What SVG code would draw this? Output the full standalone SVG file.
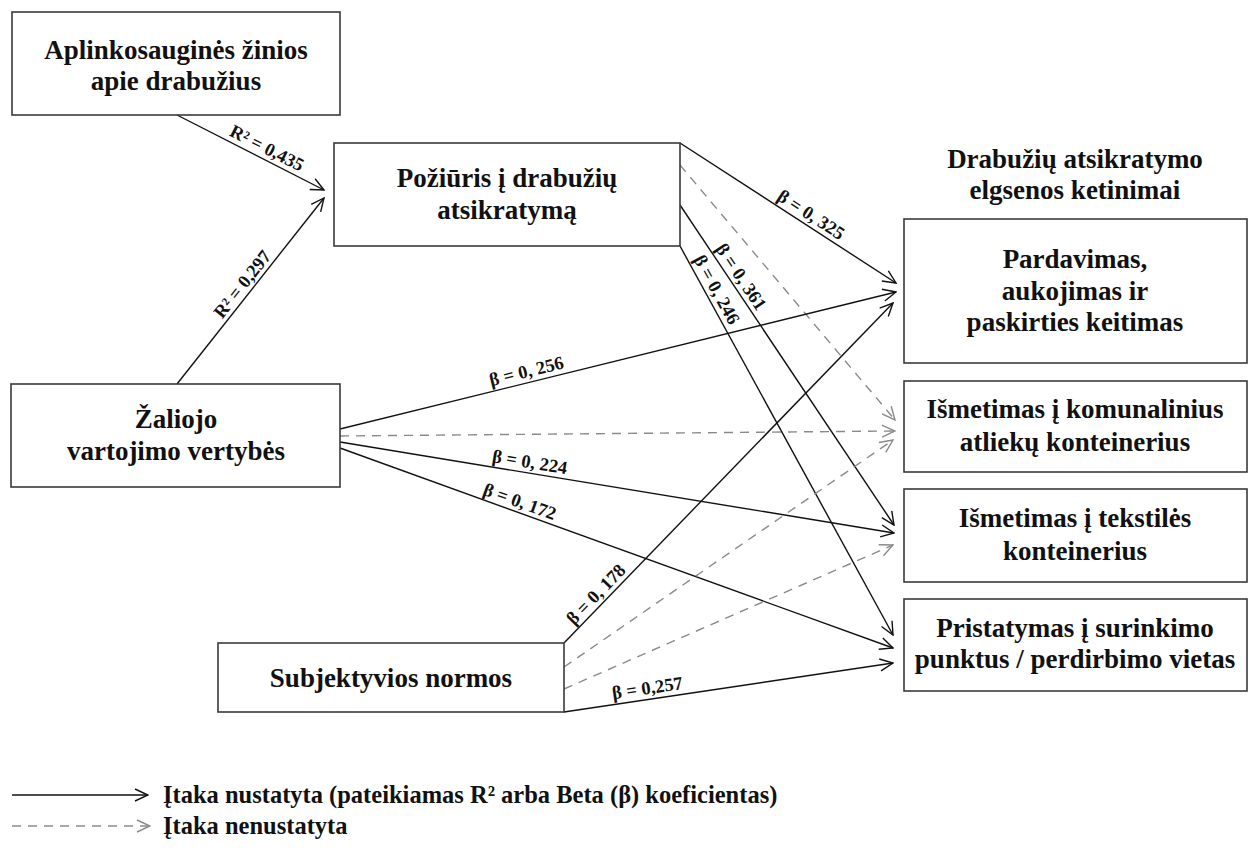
<svg xmlns="http://www.w3.org/2000/svg" width="1252" height="854" viewBox="0 0 1252 854">
  <style>
    .box { fill: #ffffff; stroke: #3a3a3a; stroke-width: 1.6; }
    .node { font-family: "Liberation Serif", "Times New Roman", serif; font-weight: bold; font-size: 27px; fill: #111; text-anchor: middle; }
    .lab { font-family: "Liberation Serif", "Times New Roman", serif; font-weight: bold; font-size: 18.5px; fill: #111; text-anchor: middle; }
    .leg { font-family: "Liberation Serif", "Times New Roman", serif; font-weight: bold; font-size: 24.5px; fill: #111; }
    .sig { fill: none; stroke: #111; stroke-width: 1.4; marker-end: url(#arr); }
    .ns { fill: none; stroke: #8a8a8a; stroke-width: 1.4; stroke-dasharray: 9 7; marker-end: url(#arrg); }
  </style>
  <defs>
    <marker id="arr" viewBox="-15 -8 16 16" refX="0" refY="0" markerWidth="16" markerHeight="16" markerUnits="userSpaceOnUse" orient="auto">
      <path d="M-13,-6 L0,0 L-13,6" fill="none" stroke="#111" stroke-width="1.4"/>
    </marker>
    <marker id="arrg" viewBox="-15 -8 16 16" refX="0" refY="0" markerWidth="16" markerHeight="16" markerUnits="userSpaceOnUse" orient="auto">
      <path d="M-13,-6 L0,0 L-13,6" fill="none" stroke="#8a8a8a" stroke-width="1.4"/>
    </marker>
  </defs>

  <rect width="1252" height="854" fill="#ffffff"/>

  <!-- connectors -->
  <g id="connectors">
    <line class="sig" x1="177" y1="115" x2="324" y2="190"/>
    <line class="sig" x1="177" y1="384" x2="324" y2="198"/>

    <line class="sig" x1="680" y1="143" x2="896" y2="283"/>
    <line class="ns" x1="680" y1="165" x2="895" y2="420"/>
    <line class="sig" x1="680" y1="205" x2="894" y2="525"/>
    <line class="sig" x1="680" y1="246" x2="893" y2="635"/>

    <line class="sig" x1="340" y1="429" x2="896" y2="292"/>
    <line class="ns" x1="340" y1="436" x2="895" y2="431"/>
    <line class="sig" x1="340" y1="442" x2="894" y2="533"/>
    <line class="sig" x1="340" y1="448" x2="893" y2="648"/>

    <line class="sig" x1="564" y1="643" x2="893" y2="303"/>
    <line class="ns" x1="564" y1="667" x2="893" y2="440"/>
    <line class="ns" x1="564" y1="689" x2="893" y2="545"/>
    <line class="sig" x1="564" y1="712" x2="893" y2="663"/>

    <!-- coefficient labels -->
    <text class="lab" transform="translate(262,158) rotate(27)" y="-5">R² = 0,435</text>
    <text class="lab" transform="translate(251,291) rotate(-51.7)" y="-5">R² = 0,297</text>
    <text class="lab" transform="translate(805,224) rotate(33)" y="-5">β = 0, 325</text>
    <text class="lab" transform="translate(732,283) rotate(56.2)" y="-5">β = 0, 361</text>
    <text class="lab" transform="translate(707,295) rotate(61.3)" y="-5">β = 0, 246</text>
    <text class="lab" transform="translate(529,382) rotate(-13.8)" y="-5">β = 0, 256</text>
    <text class="lab" transform="translate(528,473) rotate(9.3)" y="-5">β = 0, 224</text>
    <text class="lab" transform="translate(516,512) rotate(19.9)" y="-5">β = 0, 172</text>
    <text class="lab" transform="translate(604,602) rotate(-45.9)" y="-5">β = 0, 178</text>
    <text class="lab" transform="translate(649,699) rotate(-8.5)" y="-5">β = 0,257</text>
  </g>

  <!-- source constructs -->
  <g id="knowledge">
    <rect class="box" x="12" y="12" width="328" height="103"/>
    <text class="node" x="176" y="59">Aplinkosauginės žinios</text>
    <text class="node" x="176" y="90">apie drabužius</text>
  </g>
  <g id="attitude">
    <rect class="box" x="334" y="143" width="346" height="103"/>
    <text class="node" x="507" y="187">Požiūris į drabužių</text>
    <text class="node" x="507" y="219">atsikratymą</text>
  </g>
  <g id="green-values">
    <rect class="box" x="11" y="384" width="329" height="103"/>
    <text class="node" x="176" y="428">Žaliojo</text>
    <text class="node" x="176" y="460">vartojimo vertybės</text>
  </g>
  <g id="norms">
    <rect class="box" x="218" y="643" width="346" height="69"/>
    <text class="node" x="391" y="687">Subjektyvios normos</text>
  </g>

  <!-- intentions -->
  <g id="intentions-title">
    <text class="node" x="1075" y="168">Drabužių atsikratymo</text>
    <text class="node" x="1075" y="199">elgsenos ketinimai</text>
  </g>
  <g id="selling">
    <rect class="box" x="904" y="219" width="343" height="144"/>
    <text class="node" x="1075" y="268">Pardavimas,</text>
    <text class="node" x="1075" y="300">aukojimas ir</text>
    <text class="node" x="1075" y="331">paskirties keitimas</text>
  </g>
  <g id="municipal">
    <rect class="box" x="904" y="381" width="343" height="91"/>
    <text class="node" x="1075" y="418">Išmetimas į komunalinius</text>
    <text class="node" x="1075" y="451">atliekų konteinerius</text>
  </g>
  <g id="textile">
    <rect class="box" x="904" y="489" width="343" height="93"/>
    <text class="node" x="1075" y="527">Išmetimas į tekstilės</text>
    <text class="node" x="1075" y="560">konteinerius</text>
  </g>
  <g id="collection">
    <rect class="box" x="904" y="599" width="343" height="92"/>
    <text class="node" x="1075" y="637">Pristatymas į surinkimo</text>
    <text class="node" x="1075" y="668">punktus / perdirbimo vietas</text>
  </g>

  <!-- legend -->
  <g id="legend">
    <line class="sig" x1="12" y1="795" x2="148" y2="795"/>
    <text class="leg" x="163" y="803">Įtaka nustatyta (pateikiamas R² arba Beta (β) koeficientas)</text>
    <line class="ns" x1="12" y1="826" x2="150" y2="826"/>
    <text class="leg" x="163" y="834">Įtaka nenustatyta</text>
  </g>
</svg>
